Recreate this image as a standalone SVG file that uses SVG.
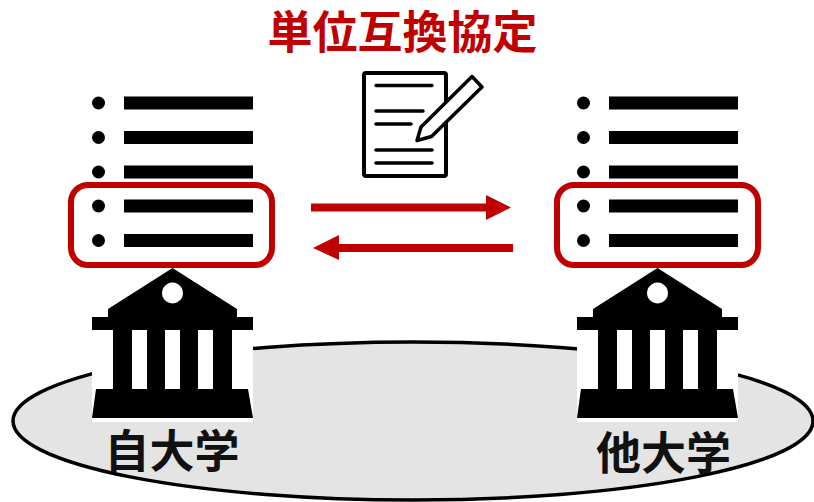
<svg xmlns="http://www.w3.org/2000/svg" width="814" height="502" viewBox="0 0 814 502">
<style>
.lbl{font-family:"Noto Sans CJK JP","Noto Sans",sans-serif;font-weight:700}
.red{fill:#c00000}
.hl{fill:none;stroke:#c00000;stroke-width:6}
.ln{stroke:#000;stroke-width:3.5;stroke-linecap:round}
</style>
<defs>
<g id="list">
<circle cx="98.5" cy="103" r="6.5"/><rect x="124" y="96.500" width="129" height="13"/>
<circle cx="98.5" cy="137.500" r="6.500"/><rect x="124" y="131" width="129" height="13"/>
<circle cx="98.5" cy="172" r="6.5"/><rect x="124" y="165.500" width="129" height="13"/>
<circle cx="98.5" cy="206" r="6.5"/><rect x="124" y="199.500" width="129" height="13"/>
<circle cx="98.5" cy="240.500" r="6.5"/><rect x="124" y="234" width="129" height="13"/>
</g>
<g id="bank">
<rect x="92" y="268" width="161" height="154" fill="#fff"/>
<path fill-rule="evenodd" d="M172.500 268 L237 309 V317 H253 V330 H232 V389 H248 L253 418 H92 L96 389 H113 V330 H92 V317 H108 V309 Z M172.500 282.500 a10.500 10.500 0 1 0 0.010 0 Z M132 330 V389 H147 V330 Z M165 330 V389 H180 V330 Z M198 330 V389 H213 V330 Z"/>
</g>
</defs>
<ellipse id="campus" cx="413" cy="421" rx="400" ry="79" fill="#e4e4e4" stroke="#000" stroke-width="3.5"/>
<g id="title"><text class="lbl red" x="402.500" y="49" font-size="45" text-anchor="middle">単位互換協定</text></g>
<g id="doc">
<rect x="364" y="73" width="82" height="103" rx="2" fill="#fff" stroke="#000" stroke-width="4"/>
<path class="ln" fill="none" d="M376 85.500H432M376 111H423M376 124H411M376 150H432M376 163H432"/>
<path d="M417 140.500 L421 127 L472 76.500 L482 87 L431.500 136.500 Z" fill="#fff" stroke="#000" stroke-width="3.500" stroke-linejoin="round"/>
</g>
<g id="list-self"><use href="#list"/><rect class="hl" x="71" y="185" width="201" height="80" rx="17"/></g>
<g id="list-other"><use href="#list" x="485"/><rect class="hl" x="557" y="185" width="201" height="80" rx="17"/></g>
<g id="bank-self"><use href="#bank"/><text class="lbl" x="172" y="468" font-size="45" text-anchor="middle" fill="#111">自大学</text></g>
<g id="bank-other"><use href="#bank" x="485"/><text class="lbl" x="663.500" y="470" font-size="45" text-anchor="middle" fill="#111">他大学</text></g>
<g id="connectors">
<path class="red" d="M311 203.500H486V195L511 207.500L486 220V211.500H311Z"/>
<path class="red" d="M513 244H339V235L313 248L339 260V252H513Z"/>
</g>
</svg>
